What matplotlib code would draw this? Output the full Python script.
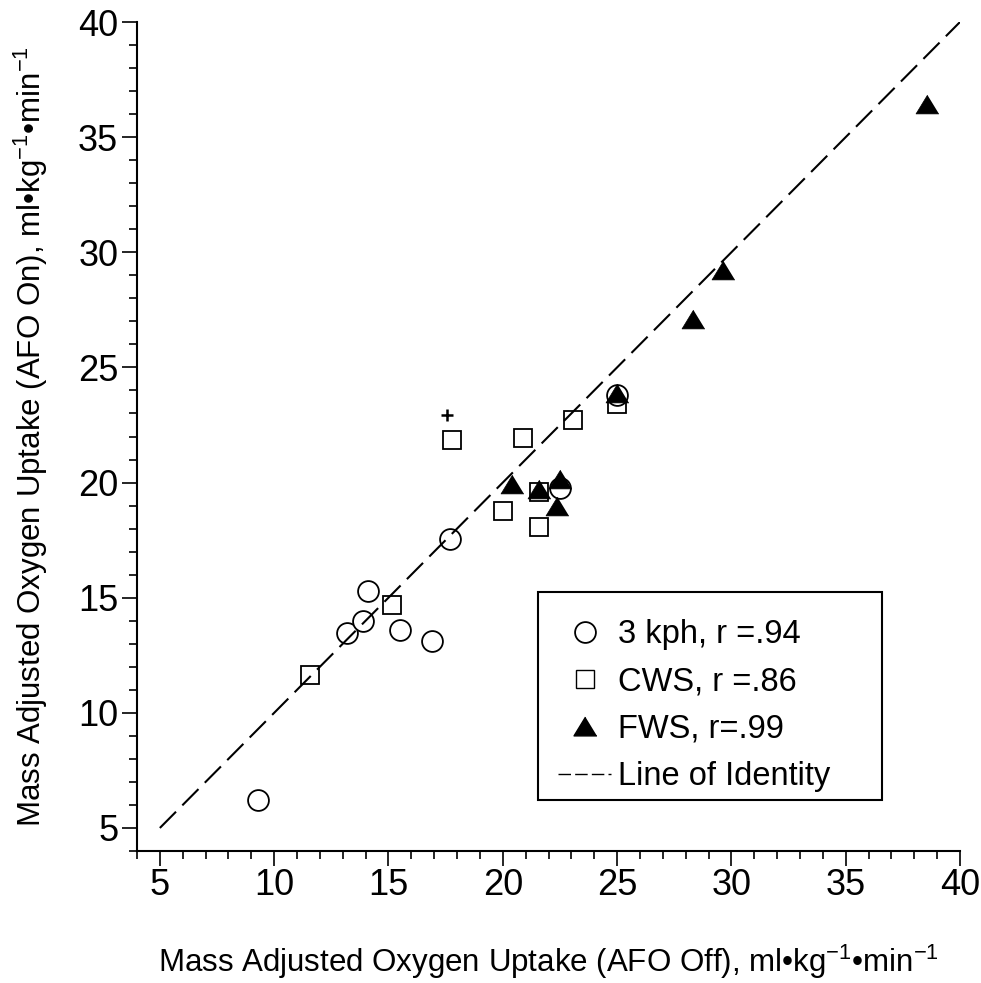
import matplotlib
matplotlib.use("Agg")
import matplotlib.pyplot as plt
from matplotlib.ticker import MultipleLocator
from matplotlib.lines import Line2D
from matplotlib.patches import Rectangle

plt.rcParams['font.family'] = ['Liberation Sans', 'DejaVu Sans']
plt.rcParams['mathtext.fontset'] = 'custom'
plt.rcParams['mathtext.rm'] = 'Liberation Sans'
plt.rcParams['mathtext.default'] = 'regular'

# 3 kph (circles)
kph_x = [9.3, 13.2, 13.9, 14.1, 15.5, 16.9, 17.7, 22.5, 25.0]
kph_y = [6.2, 13.45, 14.0, 15.3, 13.6, 13.1, 17.55, 19.75, 23.8]
# CWS (squares)
cws_x = [11.55, 15.15, 17.8, 20.0, 20.9, 21.6, 21.6, 23.05, 25.0]
cws_y = [11.65, 14.7, 21.85, 18.75, 21.95, 19.6, 18.05, 22.7, 23.4]
# FWS (triangles)
fws_x = [20.4, 21.6, 22.5, 22.35, 25.0, 28.3, 29.65, 38.55]
fws_y = [19.95, 19.7, 20.15, 19.0, 23.9, 27.1, 29.25, 36.45]
# annotation mark
plus_x = [17.58]
plus_y = [22.93]
# line of identity
identity = [5, 40]

ticks = [5, 10, 15, 20, 25, 30, 35, 40]
labels = ["3 kph, r =.94", "CWS, r =.86", "FWS, r=.99", "Line of Identity"]

fig = plt.figure(figsize=(9.81, 9.83), dpi=100)
ax = fig.add_axes([137/981, 132/983, 823/981, 829/983])

tri = [(0, 0.82), (-1, -0.82), (1, -0.82)]

ax.plot(cws_x, cws_y, linestyle='none', marker='s', markersize=13,
        markerfacecolor='white', markeredgecolor='black', markeredgewidth=1.3, zorder=3)
ax.plot(kph_x, kph_y, linestyle='none', marker='o', markersize=15,
        markerfacecolor='white', markeredgecolor='black', markeredgewidth=1.3, zorder=4)
ax.plot(fws_x, fws_y, linestyle='none', marker=tri, markersize=16.5,
        markerfacecolor='black', markeredgecolor='black', markeredgewidth=0.5, zorder=5)
ax.plot(plus_x, plus_y, linestyle='none', marker='+', markersize=8,
        markeredgecolor='black', markeredgewidth=1.8, zorder=5)
ax.plot(identity, identity, color='black', linewidth=1.5, dashes=(11, 4.3), zorder=6)

ax.set_xlim(4, 40)
ax.set_ylim(4, 40)
ax.xaxis.set_minor_locator(MultipleLocator(1))
ax.yaxis.set_minor_locator(MultipleLocator(1))
ax.set_xticks(ticks)
ax.set_yticks(ticks)

for s in ['top', 'right']:
    ax.spines[s].set_visible(False)
for s in ['left', 'bottom']:
    ax.spines[s].set_linewidth(1.5)

ax.tick_params(which='major', direction='out', length=11, width=1.2, labelsize=26)
ax.tick_params(which='minor', direction='out', length=6, width=1.2)
ax.tick_params(axis='x', which='major', pad=1)
ax.tick_params(axis='y', which='major', pad=2.5)

ax.set_xlabel(r"Mass Adjusted Oxygen Uptake (AFO Off), ml•kg$^{-1}$•min$^{-1}$",
              fontsize=22.5, labelpad=29)
ax.set_ylabel(r"Mass Adjusted Oxygen Uptake (AFO On), ml•kg$^{-1}$•min$^{-1}$",
              fontsize=22.5, labelpad=20)

handles = [
    Line2D([], [], linestyle='none', marker='o', markersize=15, markerfacecolor='white',
           markeredgecolor='black', markeredgewidth=1.3),
    Line2D([], [], linestyle='none', marker='s', markersize=13, markerfacecolor='white',
           markeredgecolor='black', markeredgewidth=1.0),
    Line2D([], [], linestyle='none', marker=tri, markersize=16.5, markerfacecolor='black',
           markeredgecolor='black'),
    Line2D([], [], color='black', linewidth=1.0, dashes=(9, 3)),
]
leg = fig.legend(handles, labels, loc='upper left',
                 bbox_to_anchor=(558/981, (983-619)/983), frameon=False,
                 fontsize=23.5, handlelength=1.63, handletextpad=0.2,
                 labelspacing=0.5, borderpad=0, borderaxespad=0)
fig.patches.append(Rectangle((538/981, (983-800)/983), 344/981, 208/983,
                             transform=fig.transFigure, fill=False,
                             edgecolor='black', linewidth=1.5))

fig.savefig("out.png", dpi=100)
